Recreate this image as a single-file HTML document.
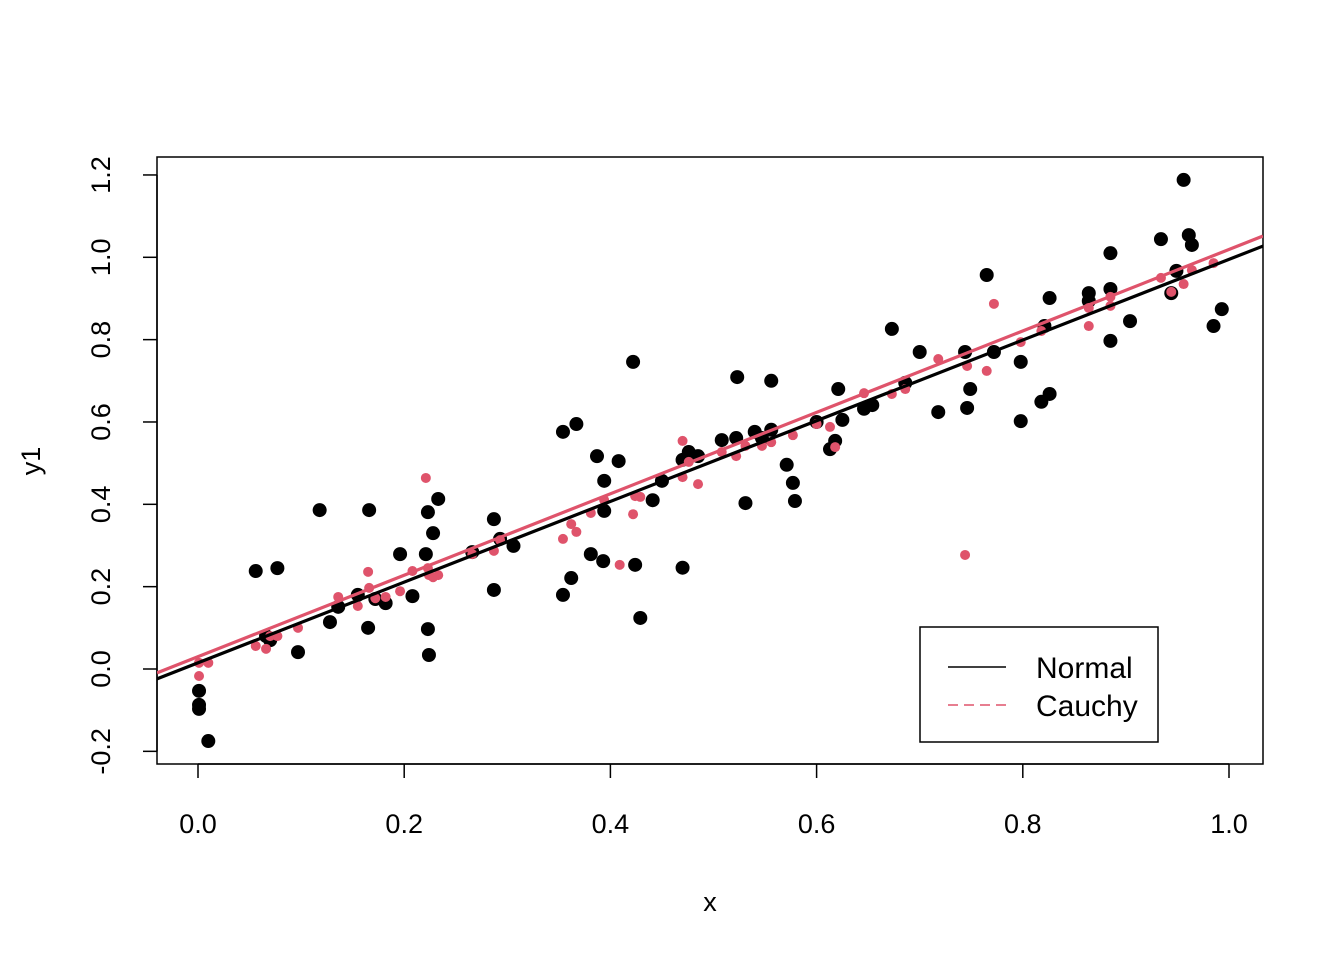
<!DOCTYPE html>
<html><head><meta charset="utf-8"><style>
body{margin:0;background:#fff;}
svg{display:block;font-family:"Liberation Sans",Arial,sans-serif;}
</style></head><body>
<svg id="chart" width="1344" height="960" viewBox="0 0 1344 960"></svg>
<script>
const blackX=[0.001,0.001,0.001,0.010,0.056,0.066,0.070,0.077,0.097,0.118,0.128,0.136,0.155,0.165,0.166,0.172,0.182,0.196,0.208,0.221,0.223,0.223,0.224,0.228,0.233,0.266,0.287,0.287,0.293,0.306,0.354,0.354,0.362,0.367,0.381,0.387,0.393,0.394,0.394,0.408,0.422,0.424,0.429,0.441,0.450,0.470,0.470,0.476,0.485,0.508,0.522,0.523,0.531,0.540,0.547,0.556,0.556,0.571,0.577,0.579,0.600,0.613,0.618,0.621,0.625,0.646,0.654,0.673,0.686,0.700,0.718,0.744,0.746,0.749,0.765,0.772,0.798,0.798,0.818,0.821,0.826,0.826,0.864,0.864,0.885,0.885,0.885,0.904,0.934,0.944,0.949,0.956,0.961,0.964,0.985,0.993];
const blackY=[-0.053,-0.087,-0.097,-0.175,0.238,0.080,0.070,0.245,0.041,0.386,0.114,0.151,0.180,0.100,0.386,0.170,0.160,0.279,0.177,0.279,0.381,0.097,0.034,0.330,0.413,0.284,0.364,0.192,0.316,0.299,0.576,0.180,0.221,0.595,0.279,0.517,0.262,0.457,0.384,0.505,0.746,0.253,0.124,0.410,0.457,0.508,0.246,0.527,0.517,0.556,0.561,0.709,0.403,0.576,0.561,0.700,0.581,0.496,0.452,0.408,0.600,0.534,0.554,0.680,0.605,0.632,0.641,0.826,0.695,0.770,0.624,0.770,0.634,0.680,0.957,0.770,0.746,0.602,0.649,0.833,0.668,0.901,0.913,0.894,0.923,0.797,1.010,0.845,1.044,0.913,0.967,1.188,1.054,1.030,0.833,0.874];
const redX=[0.001,0.001,0.010,0.056,0.066,0.070,0.077,0.097,0.136,0.155,0.165,0.166,0.172,0.182,0.196,0.208,0.221,0.223,0.224,0.228,0.233,0.266,0.287,0.293,0.354,0.362,0.367,0.381,0.394,0.422,0.409,0.424,0.429,0.470,0.470,0.476,0.485,0.508,0.522,0.531,0.547,0.556,0.577,0.600,0.613,0.618,0.646,0.673,0.686,0.718,0.744,0.746,0.765,0.772,0.798,0.818,0.864,0.864,0.885,0.885,0.934,0.944,0.956,0.964,0.985];
const redY=[-0.017,0.015,0.015,0.056,0.049,0.080,0.080,0.100,0.175,0.153,0.236,0.197,0.172,0.175,0.189,0.238,0.464,0.245,0.228,0.223,0.228,0.279,0.287,0.313,0.316,0.352,0.333,0.379,0.410,0.376,0.253,0.420,0.418,0.554,0.466,0.503,0.449,0.527,0.517,0.542,0.542,0.551,0.568,0.595,0.588,0.539,0.670,0.668,0.680,0.753,0.277,0.736,0.724,0.887,0.794,0.821,0.833,0.877,0.882,0.904,0.950,0.916,0.935,0.969,0.986];
const fitNormal=[0.015,0.980];
const fitCauchy=[0.030,0.989];
const xTicks=[0,0.2,0.4,0.6,0.8,1.0];
const xTickLabels=["0.0","0.2","0.4","0.6","0.8","1.0"];
const yTicks=[-0.2,0,0.2,0.4,0.6,0.8,1.0,1.2];
const yTickLabels=["-0.2","0.0","0.2","0.4","0.6","0.8","1.0","1.2"];

const NS="http://www.w3.org/2000/svg";
const svg=document.getElementById('chart');
const L=157,R=1263,T=157,B=764;
const sx=v=>198+v*1031;
const sy=v=>669-v*411.7;
const xmin=(L-198)/1031,xmax=(R-198)/1031;
function mk(tag,attrs,parent){const e=document.createElementNS(NS,tag);for(const k in attrs)e.setAttribute(k,attrs[k]);(parent||svg).appendChild(e);return e;}

const clip=mk('clipPath',{id:'pc'});mk('rect',{x:L,y:T,width:R-L,height:B-T},clip);

const box=mk('rect',{x:L,y:T,width:R-L,height:B-T,fill:'none',stroke:'#000','stroke-width':1.5});



xTicks.forEach((t,i)=>{
 const ln=mk('line',{x1:sx(t),x2:sx(t),y1:B,y2:B+14,stroke:'#000','stroke-width':1.5});
 
 
 const tx=mk('text',{x:sx(t),y:833,'font-size':27,'text-anchor':'middle'});tx.textContent=xTickLabels[i];
 
 
});
mk('line',{x1:sx(0),x2:sx(1),y1:B,y2:B,stroke:'#000','stroke-width':1.5});
yTicks.forEach((t,i)=>{
 const ln=mk('line',{x1:L,x2:L-14,y1:sy(t),y2:sy(t),stroke:'#000','stroke-width':1.5});
 
 
 const tx=mk('text',{x:0,y:0,'font-size':27,'text-anchor':'middle',transform:`translate(110,${sy(t)}) rotate(-90)`});tx.textContent=yTickLabels[i];
 
 
});
mk('line',{x1:L,x2:L,y1:sy(-0.2),y2:sy(1.2),stroke:'#000','stroke-width':1.5});

const xl=mk('text',{x:710,y:911,'font-size':27,'text-anchor':'middle'});xl.textContent='x';


const yl=mk('text',{x:0,y:0,'font-size':27,'text-anchor':'middle',transform:'translate(40,461) rotate(-90)'});yl.textContent='y1';



const g=mk('g',{'clip-path':'url(#pc)'});
blackX.forEach((x,i)=>{
 const c=mk('circle',{cx:sx(x),cy:sy(blackY[i]),r:7,fill:'#000'},g);
 
 
});
redX.forEach((x,i)=>{
 const c=mk('circle',{cx:sx(x),cy:sy(redY[i]),r:5,fill:'#DF536B'},g);
 
 
});
const ln1=mk('line',{x1:sx(xmin),y1:sy(fitNormal[0]+fitNormal[1]*xmin),x2:sx(xmax),y2:sy(fitNormal[0]+fitNormal[1]*xmax),stroke:'#000','stroke-width':3.2},g);


const ln2=mk('line',{x1:sx(xmin),y1:sy(fitCauchy[0]+fitCauchy[1]*xmin),x2:sx(xmax),y2:sy(fitCauchy[0]+fitCauchy[1]*xmax),stroke:'#DF536B','stroke-width':3.2},g);



const lg=mk('g',{});


mk('rect',{x:920,y:627,width:238,height:115,fill:'#fff',stroke:'#000','stroke-width':1.5},lg);
const e1=mk('line',{x1:948,x2:1006,y1:667,y2:667,stroke:'#000','stroke-width':1.5},lg);


const t1=mk('text',{x:1036,y:678,'font-size':30},lg);t1.textContent='Normal';


const e2=mk('line',{x1:948,x2:1006,y1:705,y2:705,stroke:'#DF536B','stroke-width':1.5,'stroke-dasharray':'10,6'},lg);


const t2=mk('text',{x:1036,y:716,'font-size':30},lg);t2.textContent='Cauchy';


</script>
</body></html>
